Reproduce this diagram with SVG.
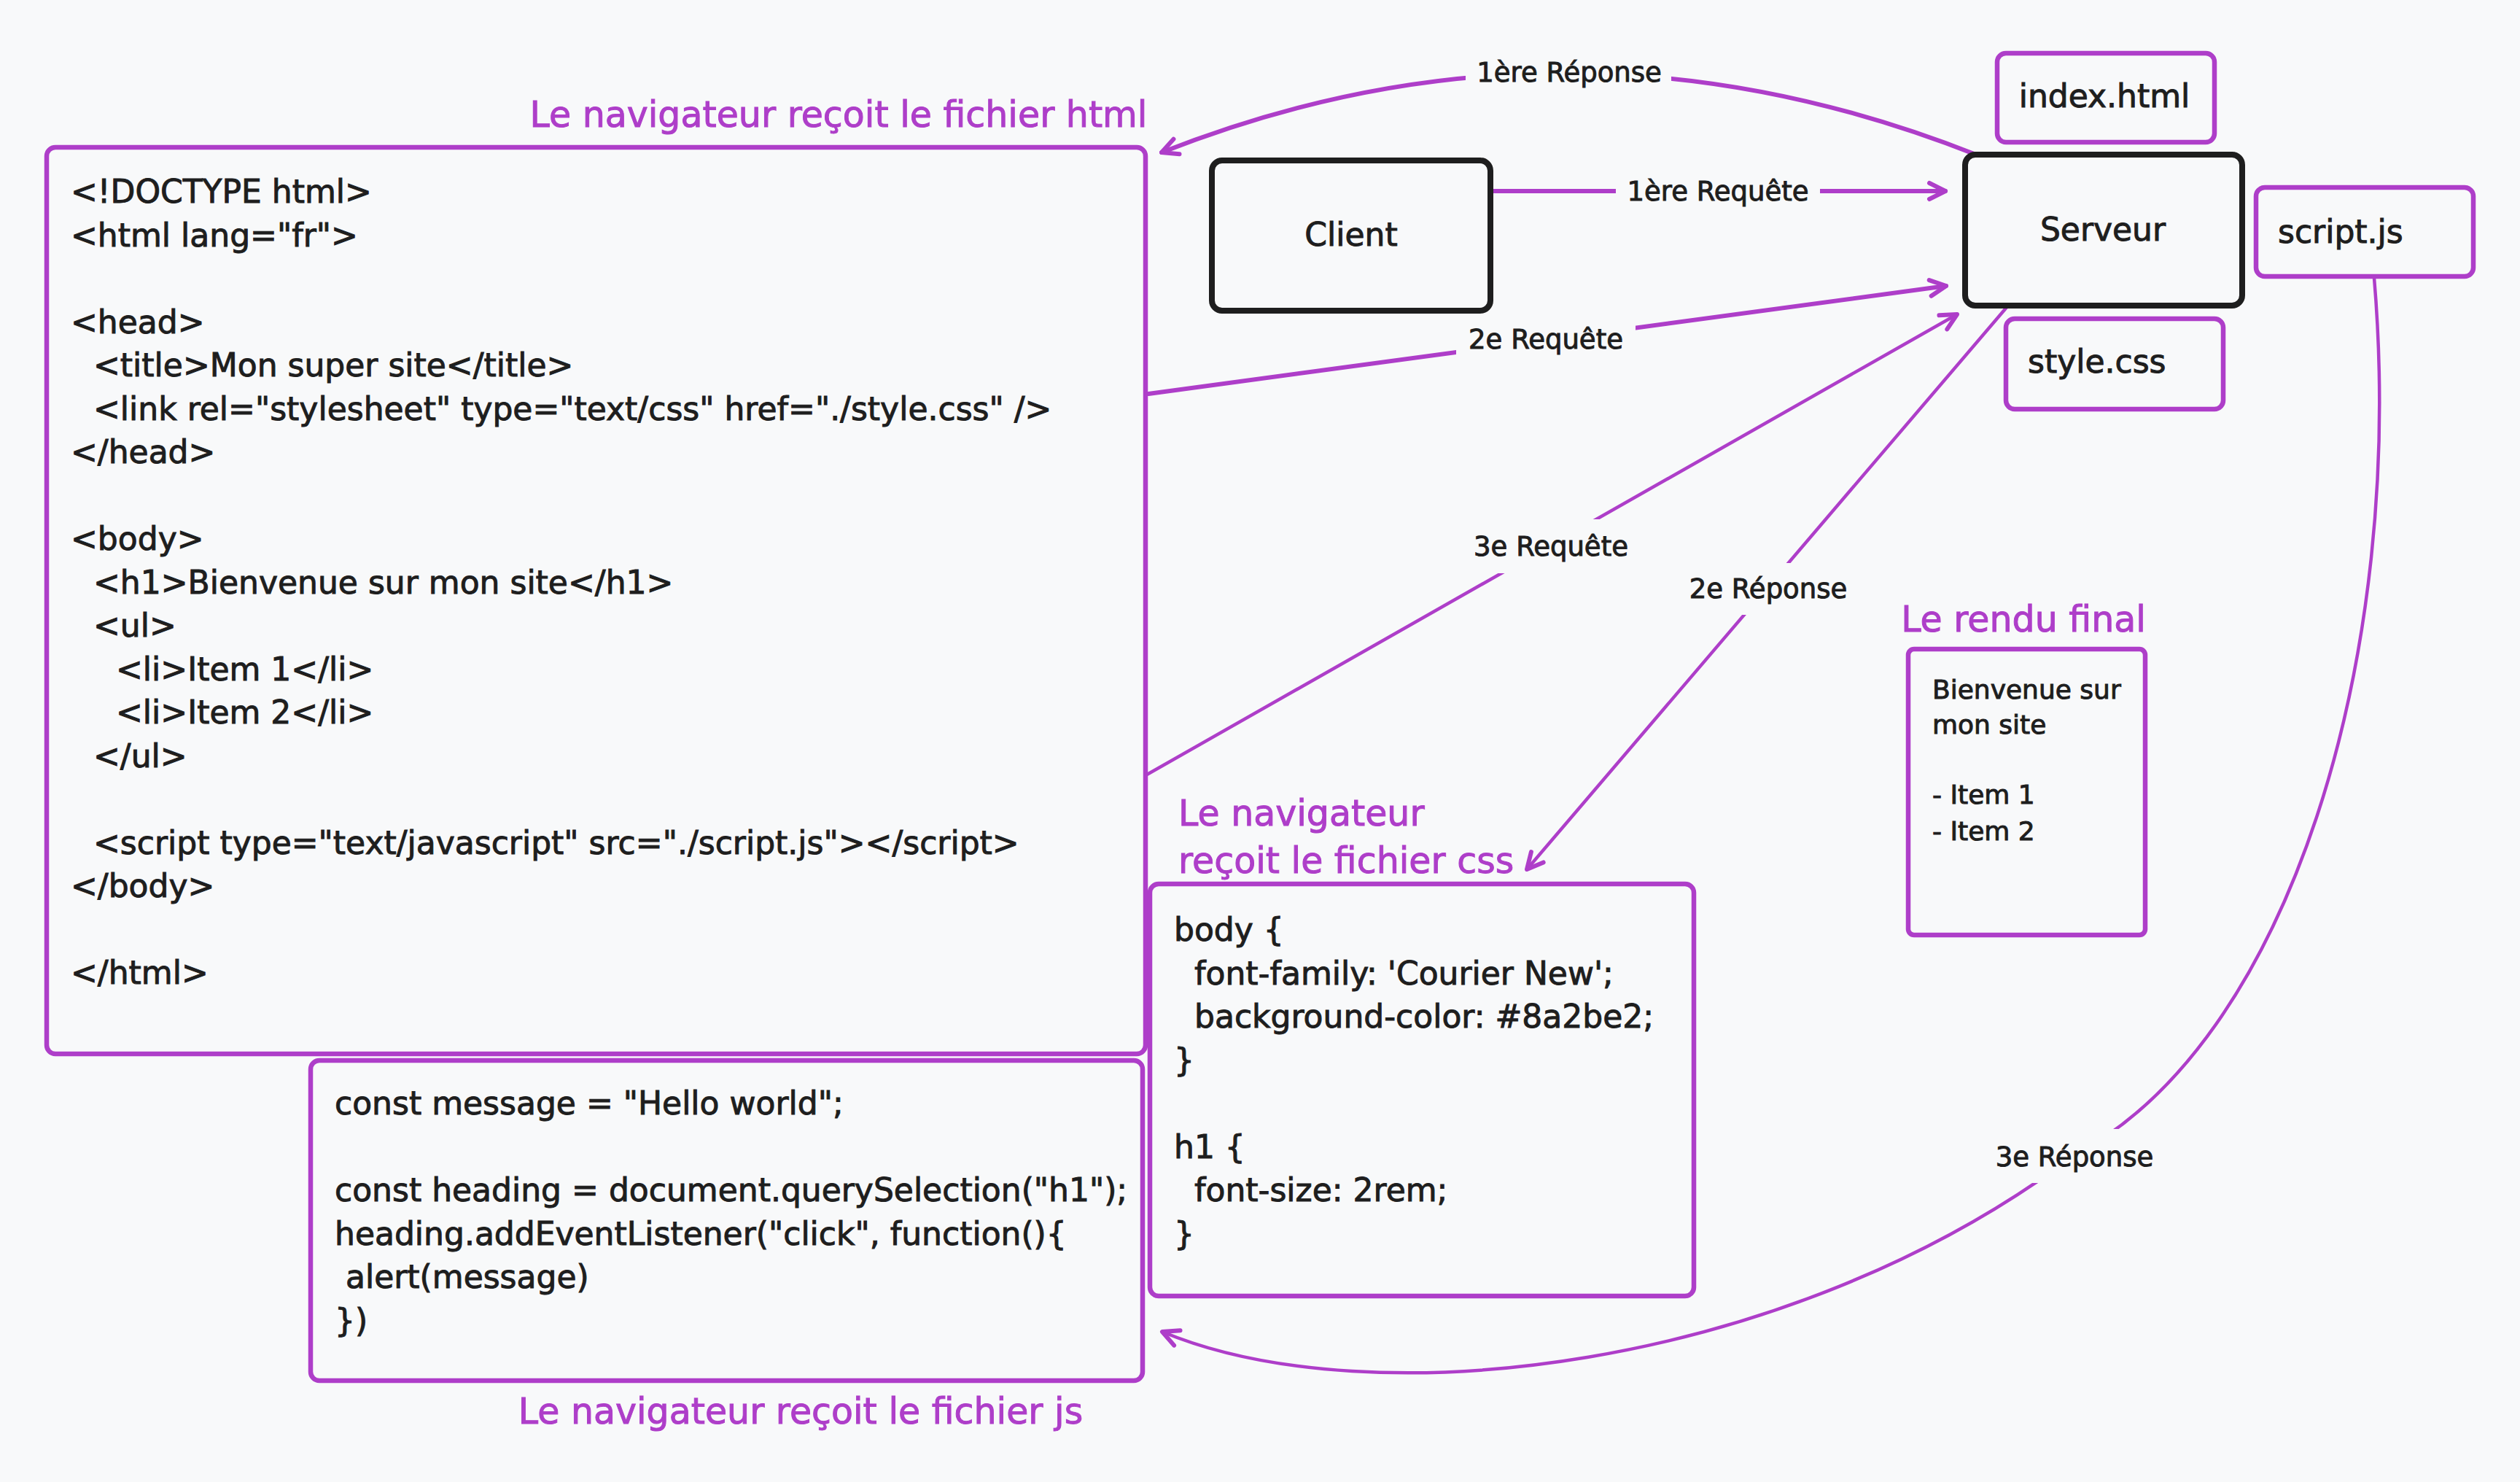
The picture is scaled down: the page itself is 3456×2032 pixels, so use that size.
<svg xmlns="http://www.w3.org/2000/svg" width="3456" height="2032" viewBox="0 0 3456 2032">
<style>
  text { font-family: "DejaVu Sans", "Liberation Sans", sans-serif; fill: #1e1e1e; stroke: #1e1e1e; stroke-width: 1; }
  .code { font-size: 44px; }
  .node { font-size: 44px; }
  .lbl { font-size: 37px; text-anchor: middle; }
  .title { font-size: 49px; fill: #ae3ec9; stroke: #ae3ec9; }
  .small { font-size: 36px; }
  .pbox { fill: none; stroke: #ae3ec9; stroke-width: 6.5; stroke-linejoin: round; }
  .kbox { fill: none; stroke: #1e1e1e; stroke-width: 8; stroke-linejoin: round; }
  .conn { fill: none; stroke: #ae3ec9; stroke-linecap: round; stroke-linejoin: round; }
  .mask { fill: #f8f9fa; stroke: none; }
</style>
<defs>
  <marker id="arr" markerUnits="userSpaceOnUse" viewBox="-30 -20 40 40" markerWidth="40" markerHeight="40" refX="0" refY="0" orient="auto" overflow="visible">
    <path d="M -22 -11 L 0 0 L -22 11" fill="none" stroke="#ae3ec9" stroke-width="6" stroke-linecap="round" stroke-linejoin="round"/>
  </marker>
</defs>
<rect x="0" y="0" width="3456" height="2032" fill="#f8f9fa"/>

<g id="connectors">
  <path class="conn" stroke-width="6" d="M 2710 212 Q 2148 -10 1593 209" marker-end="url(#arr)"/>
  <path class="conn" stroke-width="6" d="M 2046 262 L 2668 262" marker-end="url(#arr)"/>
  <path class="conn" stroke-width="6" d="M 1575 540 L 2669 392" marker-end="url(#arr)"/>
  <path class="conn" stroke-width="4.5" d="M 1573 1062 L 2684 431" marker-end="url(#arr)"/>
  <path class="conn" stroke-width="4.5" d="M 2754 419 L 2094 1192" marker-end="url(#arr)"/>
  <path class="conn" stroke-width="4.5" d="M 3256 381 C 3300 900 3140 1430 2843 1585 C 2450 1880 1880 1945 1594 1826" marker-end="url(#arr)"/>

  <rect class="mask" x="2010" y="76" width="282" height="52"/>
  <text class="lbl" x="2152" y="112">1ère Réponse</text>
  <rect class="mask" x="2216" y="236" width="280" height="54"/>
  <text class="lbl" x="2356" y="275">1ère Requête</text>
  <rect class="mask" x="1997" y="440" width="246" height="56"/>
  <text class="lbl" x="2120" y="478">2e Requête</text>
  <rect class="mask" x="2004" y="712" width="246" height="74"/>
  <text class="lbl" x="2127" y="762">3e Requête</text>
  <rect class="mask" x="2300" y="772" width="250" height="71"/>
  <text class="lbl" x="2425" y="820">2e Réponse</text>
  <rect class="mask" x="2718" y="1548" width="254" height="74"/>
  <text class="lbl" x="2845" y="1599">3e Réponse</text>
</g>

<g id="html-file">
  <rect class="pbox" x="64" y="202" width="1507" height="1243" rx="12"/>
  <text class="code">
    <tspan x="97" y="278">&lt;!DOCTYPE html&gt;</tspan>
    <tspan x="97" y="337.5">&lt;html lang="fr"&gt;</tspan>
    <tspan x="97" y="456.5">&lt;head&gt;</tspan>
    <tspan x="128" y="516">&lt;title&gt;Mon super site&lt;/title&gt;</tspan>
    <tspan x="128" y="575.5">&lt;link rel="stylesheet" type="text/css" href="./style.css" /&gt;</tspan>
    <tspan x="97" y="635">&lt;/head&gt;</tspan>
    <tspan x="97" y="754">&lt;body&gt;</tspan>
    <tspan x="128" y="813.5">&lt;h1&gt;Bienvenue sur mon site&lt;/h1&gt;</tspan>
    <tspan x="128" y="873">&lt;ul&gt;</tspan>
    <tspan x="159" y="932.5">&lt;li&gt;Item 1&lt;/li&gt;</tspan>
    <tspan x="159" y="992">&lt;li&gt;Item 2&lt;/li&gt;</tspan>
    <tspan x="128" y="1051.5">&lt;/ul&gt;</tspan>
    <tspan x="128" y="1170.5">&lt;script type="text/javascript" src="./script.js"&gt;&lt;/script&gt;</tspan>
    <tspan x="97" y="1230">&lt;/body&gt;</tspan>
    <tspan x="97" y="1349">&lt;/html&gt;</tspan>
  </text>
</g>
<g id="html-title">
  <text class="title" x="1150" y="174" text-anchor="middle">Le navigateur reçoit le fichier html</text>
</g>

<g id="js-file">
  <rect class="pbox" x="426" y="1454" width="1141" height="439" rx="12"/>
  <text class="code">
    <tspan x="459" y="1528">const message = "Hello world";</tspan>
    <tspan x="459" y="1647">const heading = document.querySelection("h1");</tspan>
    <tspan x="459" y="1706.5">heading.addEventListener("click", function(){</tspan>
    <tspan x="474" y="1766">alert(message)</tspan>
    <tspan x="459" y="1825.5">})</tspan>
  </text>
</g>
<g id="js-title">
  <text class="title" x="1098" y="1952" text-anchor="middle">Le navigateur reçoit le fichier js</text>
</g>

<g id="css-file">
  <rect class="pbox" x="1577" y="1212" width="746" height="565" rx="12"/>
  <text class="code">
    <tspan x="1610" y="1290">body {</tspan>
    <tspan x="1638" y="1349.5">font-family: 'Courier New';</tspan>
    <tspan x="1638" y="1409">background-color: #8a2be2;</tspan>
    <tspan x="1610" y="1468.5">}</tspan>
    <tspan x="1610" y="1587.5">h1 {</tspan>
    <tspan x="1638" y="1647">font-size: 2rem;</tspan>
    <tspan x="1610" y="1706.5">}</tspan>
  </text>
</g>
<g id="css-title">
  <text class="title">
    <tspan x="1616" y="1132">Le navigateur</tspan>
    <tspan x="1616" y="1197">reçoit le fichier css</tspan>
  </text>
</g>

<g id="client">
  <rect class="kbox" x="1662" y="220" width="382" height="206" rx="14"/>
  <text class="node" x="1853" y="337" text-anchor="middle">Client</text>
</g>

<g id="serveur">
  <rect class="kbox" x="2695" y="212" width="380" height="207" rx="14"/>
  <text class="node" x="2884" y="330" text-anchor="middle">Serveur</text>
</g>

<g id="index-html">
  <rect class="pbox" x="2739" y="73" width="298" height="122" rx="12"/>
  <text class="node" x="2886" y="147" text-anchor="middle">index.html</text>
</g>

<g id="script-js">
  <rect class="pbox" x="3094" y="257" width="298" height="122" rx="12"/>
  <text class="node" x="3124" y="333">script.js</text>
</g>

<g id="style-css">
  <rect class="pbox" x="2751" y="437" width="298" height="124" rx="12"/>
  <text class="node" x="2781" y="511">style.css</text>
</g>

<g id="rendu-final">
  <text class="title" x="2775" y="866" text-anchor="middle">Le rendu final</text>
  <rect class="pbox" x="2617" y="890" width="325" height="392" rx="8" stroke-width="4"/>
  <text class="small">
    <tspan x="2650" y="958">Bienvenue sur</tspan>
    <tspan x="2650" y="1006">mon site</tspan>
    <tspan x="2650" y="1102">- Item 1</tspan>
    <tspan x="2650" y="1152">- Item 2</tspan>
  </text>
</g>
</svg>
